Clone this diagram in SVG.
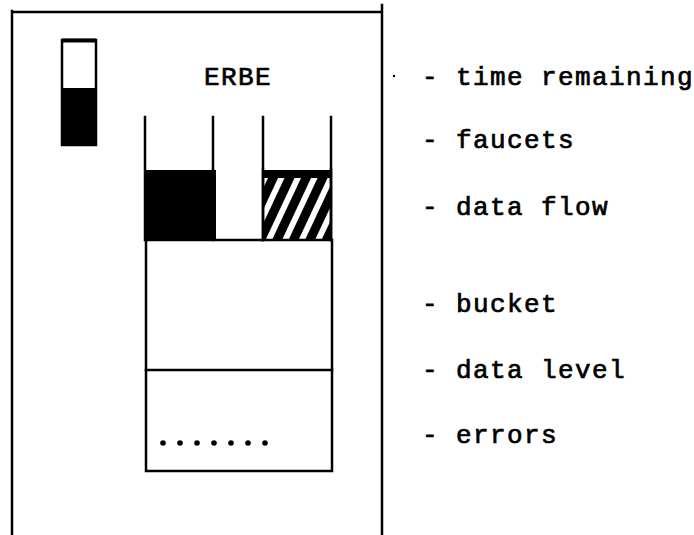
<svg xmlns="http://www.w3.org/2000/svg" width="694" height="535" viewBox="0 0 694 535">
  <style>
    .ln { stroke: #000; stroke-width: 2.5; fill: none; stroke-linecap: square; }
    .blk { fill: #000; }
    .lbl { font-family: "Liberation Mono", "Courier New", monospace; font-size: 26px; letter-spacing: 1.4px; fill: #000; stroke: #000; stroke-width: 0.7; }
  </style>
  <defs>
    <clipPath id="hatchClip">
      <rect x="264" y="177" width="67" height="64"/>
    </clipPath>
  </defs>
  <rect width="694" height="535" fill="#fff"/>

  <!-- screen frame -->
  <g id="frame">
    <path class="ln" d="M12 11 V535 M382 5 V535 M12 12 H382"/>
  </g>

  <!-- time remaining gauge -->
  <g id="timer">
    <rect x="62" y="40" width="34" height="105" class="ln"/>
    <rect x="62" y="38.5" width="34" height="4" class="blk"/>
    <rect x="62" y="88" width="34" height="57" class="blk"/>
  </g>

  <g id="title">
    <text class="lbl" x="204" y="85">ERBE</text>
  </g>

  <!-- faucets with data flow -->
  <g id="faucets">
    <path class="ln" d="M145 117 V240 M213 117 V240 M263 117 V240 M331 117 V240"/>
    <rect x="145" y="170" width="71" height="71" class="blk"/>
    <rect x="263" y="170" width="68" height="8" class="blk"/>
    <g clip-path="url(#hatchClip)">
      <polygon class="blk" points="222,241 232,241 262,177 252,177"/>
      <polygon class="blk" points="238.5,241 248.5,241 278.5,177 268.5,177"/>
      <polygon class="blk" points="255,241 265,241 295,177 285,177"/>
      <polygon class="blk" points="271.5,241 281.5,241 311.5,177 301.5,177"/>
      <polygon class="blk" points="288,241 298,241 328,177 318,177"/>
      <polygon class="blk" points="304.5,241 314.5,241 344.5,177 334.5,177"/>
      <polygon class="blk" points="321,241 331,241 361,177 351,177"/>
    </g>
    <path class="ln" d="M263 170 V240 M331 170 V240"/>
  </g>

  <!-- bucket with data level and errors -->
  <g id="bucket">
    <rect x="146" y="240" width="186" height="231" class="ln"/>
    <line x1="146" y1="370" x2="332" y2="370" class="ln"/>
    <g class="blk">
      <circle cx="163" cy="443" r="2.8"/>
      <circle cx="180" cy="443" r="2.8"/>
      <circle cx="197" cy="443" r="2.8"/>
      <circle cx="214" cy="443" r="2.8"/>
      <circle cx="231" cy="443" r="2.8"/>
      <circle cx="248" cy="443" r="2.8"/>
      <circle cx="265" cy="443" r="2.8"/>
    </g>
  </g>

  <!-- legend -->
  <g id="legend">
    <circle cx="394" cy="76" r="1.2" class="blk"/>
    <text class="lbl" x="422" y="85">- time remaining</text>
    <text class="lbl" x="422" y="148">- faucets</text>
    <text class="lbl" x="422" y="215">- data flow</text>
    <text class="lbl" x="422" y="312">- bucket</text>
    <text class="lbl" x="422" y="378">- data level</text>
    <text class="lbl" x="422" y="443">- errors</text>
  </g>
</svg>
